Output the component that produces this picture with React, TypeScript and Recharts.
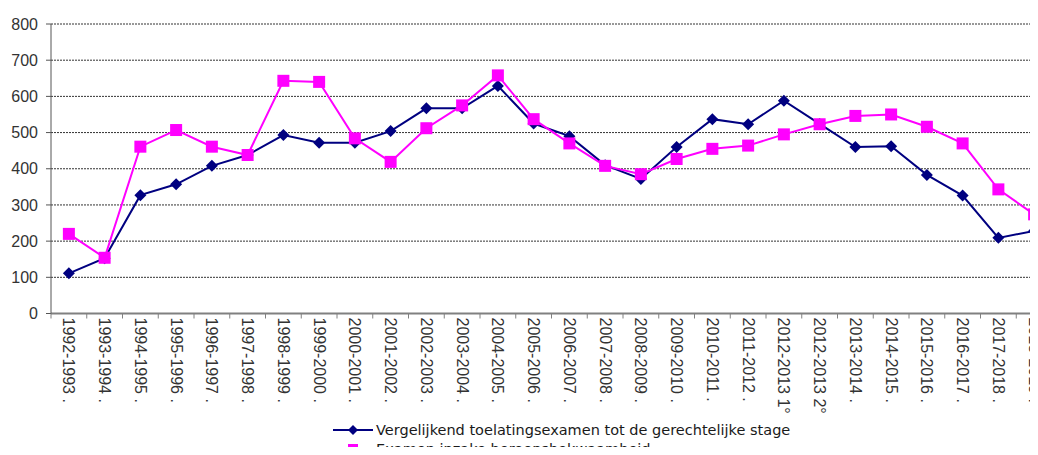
import React from "react";
import {
  LineChart,
  Line,
  XAxis,
  YAxis,
  CartesianGrid,
  Legend,
} from "recharts";

const periods = [
  "1992-1993 .", "1993-1994 .", "1994-1995 .", "1995-1996 .", "1996-1997 .",
  "1997-1998 .", "1998-1999 .", "1999-2000 .", "2000-2001 .", "2001-2002 .",
  "2002-2003 .", "2003-2004 .", "2004-2005 .", "2005-2006 .", "2006-2007 .",
  "2007-2008 .", "2008-2009 .", "2009-2010 .", "2010-2011 .", "2011-2012 .",
  "2012-2013 1°", "2012-2013 2°", "2013-2014 .", "2014-2015 .", "2015-2016 .",
  "2016-2017 .", "2017-2018 .", "2018-2019 .",
];

const vergelijkend = [
  111, 153, 327, 357, 408, 438, 493, 472, 472, 504, 567, 567, 629, 525,
  490, 410, 372, 460, 537, 523, 588, 524, 460, 462, 383, 326, 209, 228,
];

const beroeps = [
  220, 154, 461, 507, 461, 438, 643, 640, 484, 419, 512, 575, 658, 537,
  470, 408, 385, 427, 455, 464, 495, 523, 546, 550, 516, 470, 343, 274,
];

const yTicks = [0, 100, 200, 300, 400, 500, 600, 700, 800];

const SERIES = [
  { key: "v", name: "Vergelijkend toelatingsexamen tot de gerechtelijke stage", color: "#000080", shape: "diamond" },
  { key: "b", name: "Examen inzake beroepsbekwaamheid", color: "#FF00FF", shape: "square" },
];

const data = periods.map((p, i) => ({ period: p, v: vergelijkend[i], b: beroeps[i] }));

const CHART_W = 1080;
const CHART_H = 455;
const MARGIN = { top: 24, right: 28, bottom: 0, left: 0 };
const Y_W = 51;
const PLOT_W = CHART_W - MARGIN.right - MARGIN.left - Y_W;
const BAND = PLOT_W / periods.length;

const Diamond = (props: any) => {
  const { cx, cy, fill } = props;
  if (cx == null || cy == null) return null;
  const r = 6;
  return (
    <polygon
      points={`${cx},${cy - r} ${cx + r},${cy} ${cx},${cy + r} ${cx - r},${cy}`}
      fill={fill}
    />
  );
};

const Square = (props: any) => {
  const { cx, cy, fill } = props;
  if (cx == null || cy == null) return null;
  const s = 12;
  return <rect x={cx - s / 2} y={cy - s / 2} width={s} height={s} fill={fill} />;
};

// category labels run downwards, tick marks sit on the category boundaries
const CatTick = (props: any) => {
  const { x, y, payload, index } = props;
  const left = x - BAND / 2;
  const isLast = index === periods.length - 1;
  return (
    <g>
      <line x1={left} y1={y} x2={left} y2={y + 5} stroke="#808080" />
      {isLast && <line x1={x + BAND / 2} y1={y} x2={x + BAND / 2} y2={y + 5} stroke="#808080" />}
      <text
        x={x}
        y={y + 4}
        dy="0.35em"
        transform={`rotate(90, ${x}, ${y + 4})`}
        textAnchor="start"
        fontSize={16}
        fontFamily="Arial, 'Liberation Sans', sans-serif"
        fill="#333"
      >
        {payload.value}
      </text>
    </g>
  );
};

const LegendBox = () => (
  <div style={{ fontFamily: "Verdana, 'DejaVu Sans', sans-serif", fontSize: 14.5, color: "#1a1a1a" }}>
    {SERIES.map((s) => (
      <div key={s.key} style={{ display: "flex", alignItems: "center", height: 19.5, whiteSpace: "nowrap" }}>
        <svg width={41} height={14} style={{ marginRight: 2 }}>
          <line x1={0} y1={7} x2={40} y2={7} stroke={s.color} strokeWidth={2} />
          {s.shape === "diamond" ? (
            <polygon points="20,2 25,7 20,12 15,7" fill={s.color} />
          ) : (
            <rect x={15} y={2} width={10} height={10} fill={s.color} />
          )}
        </svg>
        <span>{s.name}</span>
      </div>
    ))}
  </div>
);

export default function App() {
  return (
    <div style={{ margin: -8, position: "relative", width: 1038, height: 455, overflow: "hidden", background: "#fff" }}>
      <LineChart width={CHART_W} height={CHART_H} data={data} margin={MARGIN}>
        <CartesianGrid horizontal vertical={false} stroke="#333" strokeDasharray="2 1" />
        <XAxis
          dataKey="period"
          interval={0}
          padding={{ left: BAND / 2, right: BAND / 2 }}
          height={CHART_H - 313.5 - MARGIN.bottom}
          tickLine={false}
          tickSize={0}
          tickMargin={0}
          axisLine={{ stroke: "#808080", strokeWidth: 2 }}
          tick={<CatTick />}
        />
        <YAxis
          width={Y_W}
          domain={[0, 800]}
          ticks={yTicks}
          interval={0}
          tickSize={5}
          tickMargin={8}
          axisLine={{ stroke: "#555" }}
          tickLine={{ stroke: "#555" }}
          tick={{ fontSize: 16, fill: "#333", fontFamily: "Arial, 'Liberation Sans', sans-serif" }}
        />
        <Legend
          layout="horizontal"
          verticalAlign="middle"
          align="center"
          content={<LegendBox />}
          wrapperStyle={{ top: 420, left: 333, bottom: "auto", width: "auto" }}
        />
        <Line
          dataKey="v"
          name={SERIES[0].name}
          stroke="#000080"
          fill="#000080"
          strokeWidth={2}
          dot={<Diamond />}
          activeDot={false}
          isAnimationActive={false}
        />
        <Line
          dataKey="b"
          name={SERIES[1].name}
          stroke="#FF00FF"
          fill="#FF00FF"
          strokeWidth={2}
          dot={<Square />}
          activeDot={false}
          isAnimationActive={false}
        />
      </LineChart>
    </div>
  );
}
